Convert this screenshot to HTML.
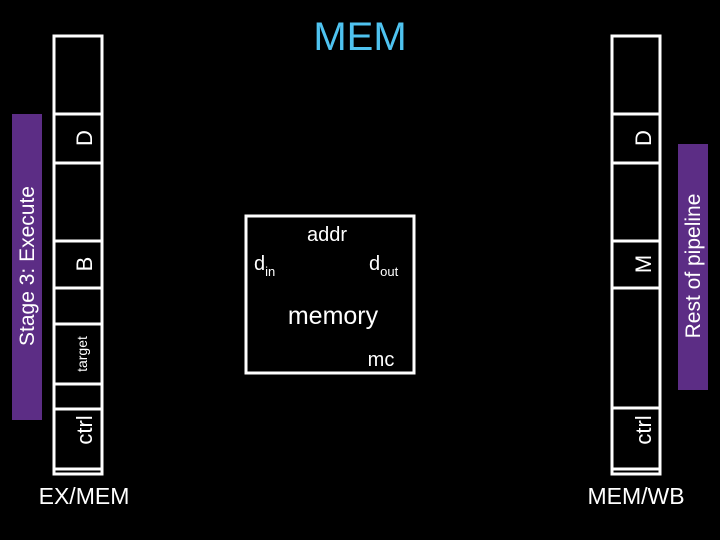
<!DOCTYPE html>
<html><head><meta charset="utf-8"><style>
html,body{margin:0;padding:0;background:#000;}
svg{display:block;}
text{font-family:"Liberation Sans",sans-serif;fill:#fff;}
</style></head><body>
<svg width="720" height="540" viewBox="0 0 720 540" xmlns="http://www.w3.org/2000/svg">
<rect width="720" height="540" fill="#000"/>
<text x="360" y="50" text-anchor="middle" font-size="40" style="fill:#4fc3f0">MEM</text>

<rect x="12" y="114" width="30" height="306" fill="#5c2d85"/>
<text transform="translate(34,266) rotate(-90)" text-anchor="middle" font-size="21">Stage 3: Execute</text>

<rect x="54" y="36" width="48" height="438" fill="none" stroke="#fff" stroke-width="3"/>
<g stroke="#fff" stroke-width="3">
<line x1="54" y1="114" x2="102" y2="114"/><line x1="54" y1="163" x2="102" y2="163"/>
<line x1="54" y1="241" x2="102" y2="241"/><line x1="54" y1="288" x2="102" y2="288"/>
<line x1="54" y1="324" x2="102" y2="324"/><line x1="54" y1="384" x2="102" y2="384"/>
<line x1="54" y1="409" x2="102" y2="409"/><line x1="54" y1="469" x2="102" y2="469"/>
</g>
<text transform="translate(92,138) rotate(-90)" text-anchor="middle" font-size="22">D</text>
<text transform="translate(92,264) rotate(-90)" text-anchor="middle" font-size="22">B</text>
<text transform="translate(87,354) rotate(-90)" text-anchor="middle" font-size="14">target</text>
<text transform="translate(92,430) rotate(-90)" text-anchor="middle" font-size="22">ctrl</text>
<text x="84" y="504" text-anchor="middle" font-size="23">EX/MEM</text>

<rect x="246" y="216" width="168" height="157" fill="none" stroke="#fff" stroke-width="3"/>
<text x="327" y="241" text-anchor="middle" font-size="20">addr</text>
<text x="254" y="270" font-size="20">d<tspan font-size="13" dy="6">in</tspan></text>
<text x="369" y="270" font-size="20">d<tspan font-size="13" dy="6">out</tspan></text>
<text x="333" y="324" text-anchor="middle" font-size="25">memory</text>
<text x="381" y="366" text-anchor="middle" font-size="20">mc</text>

<rect x="612" y="36" width="48" height="438" fill="none" stroke="#fff" stroke-width="3"/>
<g stroke="#fff" stroke-width="3">
<line x1="612" y1="114" x2="660" y2="114"/><line x1="612" y1="163" x2="660" y2="163"/>
<line x1="612" y1="241" x2="660" y2="241"/><line x1="612" y1="288" x2="660" y2="288"/>
<line x1="612" y1="408" x2="660" y2="408"/><line x1="612" y1="469" x2="660" y2="469"/>
</g>
<text transform="translate(651,138) rotate(-90)" text-anchor="middle" font-size="22">D</text>
<text transform="translate(651,264) rotate(-90)" text-anchor="middle" font-size="22">M</text>
<text transform="translate(651,430) rotate(-90)" text-anchor="middle" font-size="22">ctrl</text>

<rect x="678" y="144" width="30" height="246" fill="#5c2d85"/>
<text transform="translate(700,266) rotate(-90)" text-anchor="middle" font-size="21">Rest of pipeline</text>
<text x="636" y="504" text-anchor="middle" font-size="23">MEM/WB</text>
</svg>
</body></html>
